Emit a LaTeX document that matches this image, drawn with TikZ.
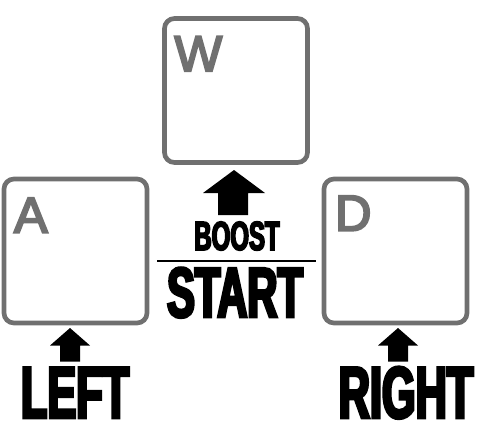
\documentclass[tikz,border=0pt]{standalone}
\usepackage{fontspec}
\newfontfamily\keyfont{Liberation Sans}[FakeBold=4]
\newfontfamily\impactfont{Liberation Sans}[FakeStretch=0.59,FakeBold=4]
\definecolor{keygray}{RGB}{112,112,112}
\tikzset{
  key/.style={draw=keygray, line width=3.5pt, rounded corners=7.5pt, minimum width=107.25pt, minimum height=108pt, inner sep=0pt},
  keyletter/.style={anchor=base west, inner sep=0pt, text=keygray, font=\keyfont\fontsize{38}{38}\selectfont},
  caption/.style={anchor=base, inner sep=0pt, font=\impactfont\bfseries\fontsize{#1}{#1}\selectfont},
}

\begin{document}
\begin{tikzpicture}[x=0.75pt,y=0.75pt,yscale=-1,xscale=1]
			\useasboundingbox (0,0) rectangle (478,433);
			\node[key] (keyW) at (236,90.5) {};
			\node[key] (keyA) at (75.5,251) {};
			\node[key] (keyD) at (395.5,251) {};
			\node[keyletter] (letterW) at ([shift={(12,55)}]keyW.north west) {W};
			\node[keyletter] (letterA) at ([shift={(12,56)}]keyA.north west) {A};
			\node[keyletter] (letterD) at ([shift={(13,54)}]keyD.north west) {D};
			\fill (234,170) -- (265,193) -- (248,193) -- (248,215) -- (218,215) -- (218,193) -- (203,193) -- cycle;
			\fill (70,328) -- (90,345.5) -- (80,345.5) -- (80,361.5) -- (60,361.5) -- (60,345.5) -- (50,345.5) -- cycle;
			\fill (398,328) -- (418,345.5) -- (408,345.5) -- (408,361.5) -- (388,361.5) -- (388,345.5) -- (378,345.5) -- cycle;
			\node[caption=30.5] (boost) at (237,250) {BOOST};
			\draw[line width=1.5pt] (157,261) -- (316,261);
			\node[caption=53] (start) at (235,317) {START};
			\node[caption=55] (left) at (75,418) {LEFT};
			\node[caption=55] (right) at (406,418) {RIGHT};
			\end{tikzpicture}
\end{document}
